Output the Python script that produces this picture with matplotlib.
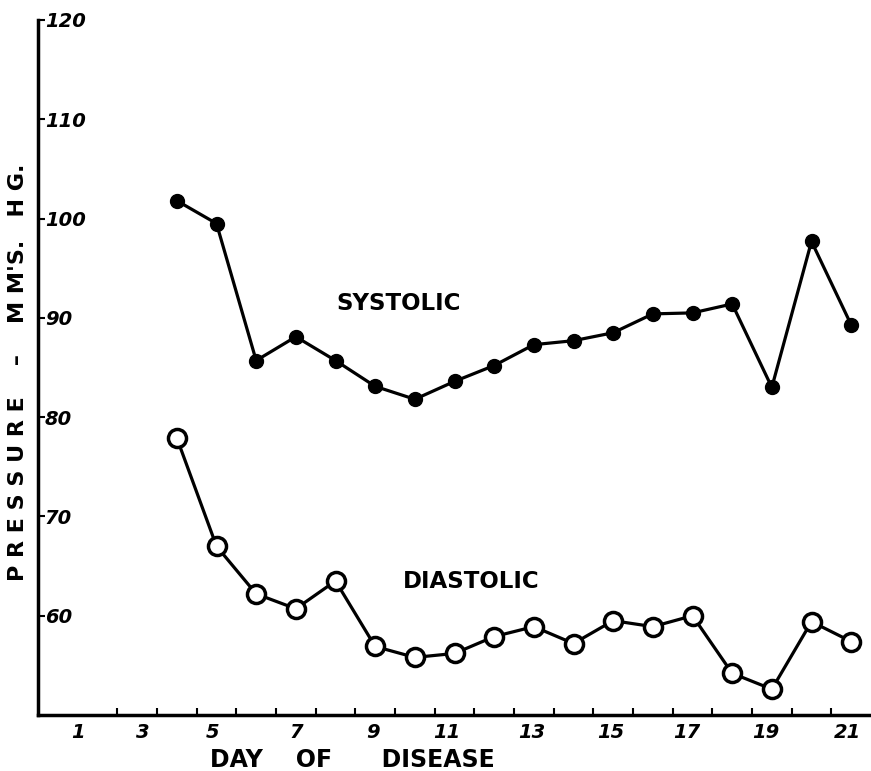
import matplotlib
matplotlib.use("Agg")
import matplotlib.pyplot as plt

days = list(range(4, 22))
systolic = [101.8, 99.5, 85.7, 88.1, 85.7, 83.1, 81.8, 83.6, 85.2, 87.3, 87.7,
            88.5, 90.4, 90.5, 91.4, 83.0, 97.7, 89.3]
diastolic = [77.9, 67.0, 62.2, 60.7, 63.5, 56.9, 55.8, 56.2, 57.9, 58.9, 57.2,
             59.5, 58.9, 60.0, 54.2, 52.6, 59.4, 57.4]
xtick_pos = [1.5, 3.15, 4.9, 7, 8.95, 10.8, 12.95, 14.95, 16.85, 18.85, 20.9]
xtick_labels = ["1", "3", "5", "7", "9", "11", "13", "15", "17", "19", "21"]
xminor_pos = [1.5 + i for i in range(20)]
ytick_pos = [60, 70, 80, 90, 100, 110, 120]
ytick_labels = ["60", "70", "80", "90", "100", "110", "120"]

fig = plt.figure(figsize=(8.71, 7.71), dpi=100)
ax = fig.add_axes([38/871, 1-715/771, 1-38/871, (715-20)/771])

ax.plot(days, systolic, color="black", lw=2.3, marker="o", ms=10,
        markerfacecolor="black", markeredgecolor="black", zorder=3)
ax.plot(days, diastolic, color="black", lw=2.3, marker="o", ms=13,
        markerfacecolor="white", markeredgecolor="black", markeredgewidth=2.5, zorder=3)

ax.set_xlim(0.5, 21.5)
ax.set_ylim(50, 120)

for s in ["top", "right"]:
    ax.spines[s].set_visible(False)
for s in ["left", "bottom"]:
    ax.spines[s].set_linewidth(2.5)

ax.set_xticks(xtick_pos)
ax.set_xticklabels(xtick_labels, fontsize=14, fontstyle="italic", fontweight="bold")
ax.set_xticks(xminor_pos, minor=True)
ax.tick_params(axis="x", which="major", length=0, pad=6)
ax.tick_params(axis="x", which="minor", direction="in", length=5, width=1.5)

ax.set_yticks(ytick_pos)
ax.set_yticklabels(ytick_labels, fontsize=14, fontstyle="italic", fontweight="bold")
ax.tick_params(axis="y", direction="in", length=5, width=1.5, pad=-5)
for lab in ax.get_yticklabels():
    lab.set_horizontalalignment("left")

ax.text(9.6, 91.4, "SYSTOLIC", fontsize=16.5, fontweight="bold", ha="center", va="center")
ax.text(11.42, 63.4, "DIASTOLIC", fontsize=16.5, fontweight="bold", ha="center", va="center")

fig.text(352/871, 1-760/771, "DAY    OF      DISEASE", fontsize=17, fontweight="bold",
         ha="center", va="center")
fig.text(18/871, 1-372/771, "P R E S S U R E    \u2013    M M'S.   H G.", fontsize=16,
         fontweight="bold", rotation=90, ha="center", va="center")

fig.savefig("out.png", dpi=100)
